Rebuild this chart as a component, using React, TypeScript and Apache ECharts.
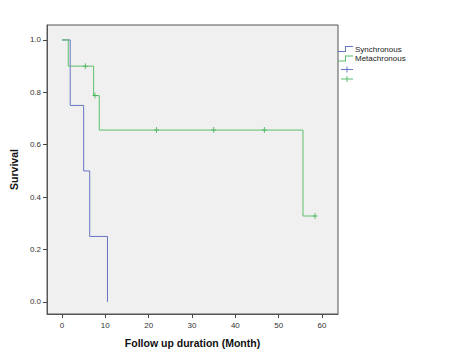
import React, { useEffect, useRef } from "react";
import * as echarts from "echarts";

const xTicks = [0, 10, 20, 30, 40, 50, 60];
const yTicks = [0, 0.2, 0.4, 0.6, 0.8, 1.0];

const seriesNames = ["Synchronous", "Metachronous"];

// Kaplan-Meier steps [time (months), survival]
const syncSteps: [number, number][] = [
  [0, 1.0],
  [1.9, 0.75],
  [5.0, 0.5],
  [6.4, 0.25],
  [10.5, 0.0],
];
const metaSteps: [number, number][] = [
  [0, 1.0],
  [1.45, 0.9],
  [7.3, 0.7875],
  [8.6, 0.656],
  [55.6, 0.328],
  [58.4, 0.328],
];
// censored observations
const syncCensored: [number, number][] = [];
const metaCensored: [number, number][] = [
  [5.4, 0.9],
  [7.6, 0.7875],
  [21.8, 0.656],
  [35.0, 0.656],
  [46.7, 0.656],
  [58.4, 0.328],
];

const BLUE = "#6676c4";
const GREEN = "#5cc06a";
const GREEN_DARK = "#45b055";
const FONT = "'Liberation Sans', Arial, sans-serif";

const stepIcon = "path://M0,5H7V0H15V1H8V6H0Z";
const plusSymbol = "path://M2,0h1v6h-1z M0,2.5h5v1h-5z";

export default function App() {
  const ref = useRef<HTMLDivElement>(null);
  useEffect(() => {
    if (!ref.current) return;
    const chart = echarts.init(ref.current, undefined, { renderer: "svg" });
    const axisLine = { show: true, onZero: false, lineStyle: { color: "#555", width: 1 } };
    chart.setOption({
      animation: false,
      backgroundColor: "#ffffff",
      textStyle: { fontFamily: FONT },
      grid: {
        left: 46,
        right: 113,
        top: 25,
        bottom: 48,
        containLabel: false,
        show: true,
        backgroundColor: "#f0f0f0",
        borderColor: "#555",
        borderWidth: 1,
      },
      xAxis: {
        type: "value",
        min: -3.45,
        max: 63.68,
        axisLine,
        axisTick: {
          show: true,
          length: 4,
          inside: false,
          customValues: xTicks,
          lineStyle: { color: "#444" },
        },
        splitLine: { show: false },
        axisLabel: {
          fontSize: 8,
          color: "#333",
          margin: 7,
          fontFamily: FONT,
          customValues: xTicks,
          formatter: (v: number) => String(Math.round(v)),
        },
        name: "Follow up duration (Month)",
        nameLocation: "middle",
        nameGap: 23,
        nameTextStyle: { fontSize: 10.5, fontWeight: "bold", color: "#111", fontFamily: FONT },
      },
      yAxis: {
        type: "value",
        min: -0.046,
        max: 1.057,
        axisLine,
        axisTick: {
          show: true,
          length: 4,
          inside: false,
          customValues: yTicks,
          lineStyle: { color: "#444" },
        },
        splitLine: { show: false },
        axisLabel: {
          fontSize: 8,
          color: "#333",
          margin: 6,
          fontFamily: FONT,
          customValues: yTicks,
          formatter: (v: number) => v.toFixed(1),
        },
        name: "Survival",
        nameLocation: "middle",
        nameGap: 21,
        nameTextStyle: { fontSize: 10.5, fontWeight: "bold", color: "#111", fontFamily: FONT },
      },
      legend: {
        orient: "vertical",
        left: 338,
        top: 45,
        itemWidth: 15,
        itemHeight: 6,
        itemGap: 1.5,
        padding: 0,
        data: seriesNames.map((n) => ({ name: n, icon: stepIcon })),
        textStyle: { fontSize: 8, color: "#222", padding: [0, 0, 0, -3], fontFamily: FONT },
      },
      graphic: [
        { type: "line", shape: { x1: 341, y1: 69.5, x2: 353, y2: 69.5 }, style: { stroke: BLUE, lineWidth: 1 } },
        { type: "line", shape: { x1: 347, y1: 66.5, x2: 347, y2: 72.5 }, style: { stroke: BLUE, lineWidth: 1 } },
        { type: "line", shape: { x1: 341, y1: 79, x2: 353, y2: 79 }, style: { stroke: GREEN, lineWidth: 1 } },
        { type: "line", shape: { x1: 347, y1: 76, x2: 347, y2: 82 }, style: { stroke: GREEN, lineWidth: 1 } },
      ],
      series: [
        {
          name: seriesNames[0],
          type: "line",
          step: "end",
          data: syncSteps,
          symbol: "none",
          color: BLUE,
          lineStyle: { color: BLUE, width: 1 },
          z: 3,
        },
        {
          name: seriesNames[1],
          type: "line",
          step: "end",
          data: metaSteps,
          symbol: "none",
          color: GREEN,
          lineStyle: { color: GREEN, width: 1 },
          z: 3,
        },
        {
          name: "sync censored",
          type: "scatter",
          data: syncCensored,
          symbol: plusSymbol,
          symbolSize: [5, 6],
          itemStyle: { color: BLUE },
          z: 4,
        },
        {
          name: "meta censored",
          type: "scatter",
          data: metaCensored,
          symbol: plusSymbol,
          symbolSize: [5, 6],
          itemStyle: { color: GREEN_DARK },
          z: 4,
        },
      ],
    });
    return () => chart.dispose();
  }, []);
  return (
    <div
      ref={ref}
      style={{ position: "fixed", left: 0, top: 0, width: 451, height: 362 }}
    />
  );
}
